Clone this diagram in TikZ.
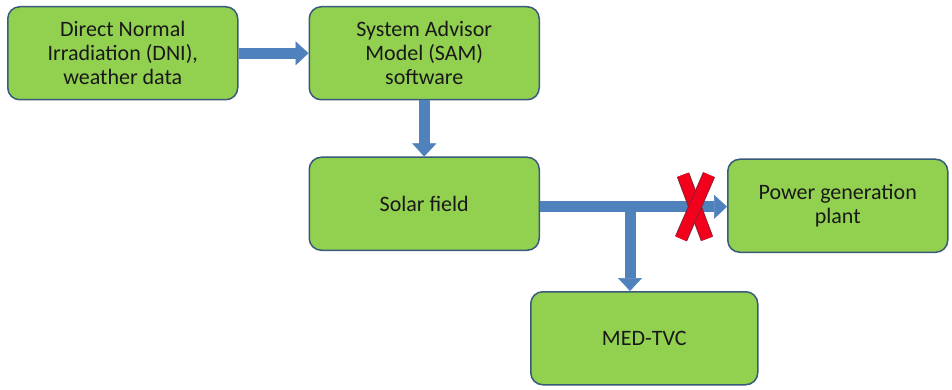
\documentclass[tikz,border=0pt]{standalone}
\usepackage{fontspec}
\setmainfont{Carlito}
\usepackage{tikz}
\usetikzlibrary{arrows.meta,positioning,calc}
\definecolor{boxgreen}{HTML}{92D050}
\definecolor{boxline}{HTML}{3A5A7A}
\definecolor{flowblue}{HTML}{4F81BD}
\definecolor{crossred}{HTML}{F2001C}
\definecolor{crossdark}{HTML}{8A2030}
\tikzstyle{block}=[rectangle,rounded corners=12pt,draw=boxline,line width=1.5pt,fill=boxgreen,minimum width=230pt,minimum height=93pt,align=center,text=black!90,font=\fontsize{22}{24}\selectfont]
\tikzstyle{flow}=[color=flowblue,line width=11pt,-{Triangle[width=24pt,length=13pt,line width=0.5pt]}]
\tikzstyle{cross}=[draw=crossred,line width=11pt,preaction={draw=crossdark,line width=13pt}]

\begin{document}
\begin{tikzpicture}[x=1pt,y=1pt]
            \useasboundingbox (0,0) rectangle (952,-390);

            \node[block,anchor=north west] (dni) at (7,-6) {Direct Normal\\Irradiation (DNI),\\weather data};
            \node[block] (sam) [right=70pt of dni] {System Advisor\\Model (SAM)\\software};
            \node[block] (solar) [below=56pt of sam] {Solar field};
            \node[block,minimum width=220pt] (power) [right=187pt of solar,yshift=-2pt] {Power generation\\plant};
            \node[block,minimum width=227pt] (med) [below right=40pt and -10pt of solar.south east] {MED-TVC};

            \draw[flow] (dni) -- (sam);
            \draw[flow] (sam) -- (solar);
            \draw[flow] ([yshift=-3pt]solar.east) -- ([yshift=-3pt]solar.east -| power.west);
            \coordinate[right=90pt of solar.east,yshift=-3pt] (j);
            \draw[flow] (j) -- (j |- med.north);

            % blocked path to the power plant
            \coordinate[right=155pt of solar.east,yshift=-3pt] (x);
            \draw[cross] ($(x)+(-12,32)$) -- ($(x)+(12,-32)$);
            \draw[cross] ($(x)+(14,32)$) -- ($(x)+(-14,-32)$);

        \end{tikzpicture}
\end{document}
